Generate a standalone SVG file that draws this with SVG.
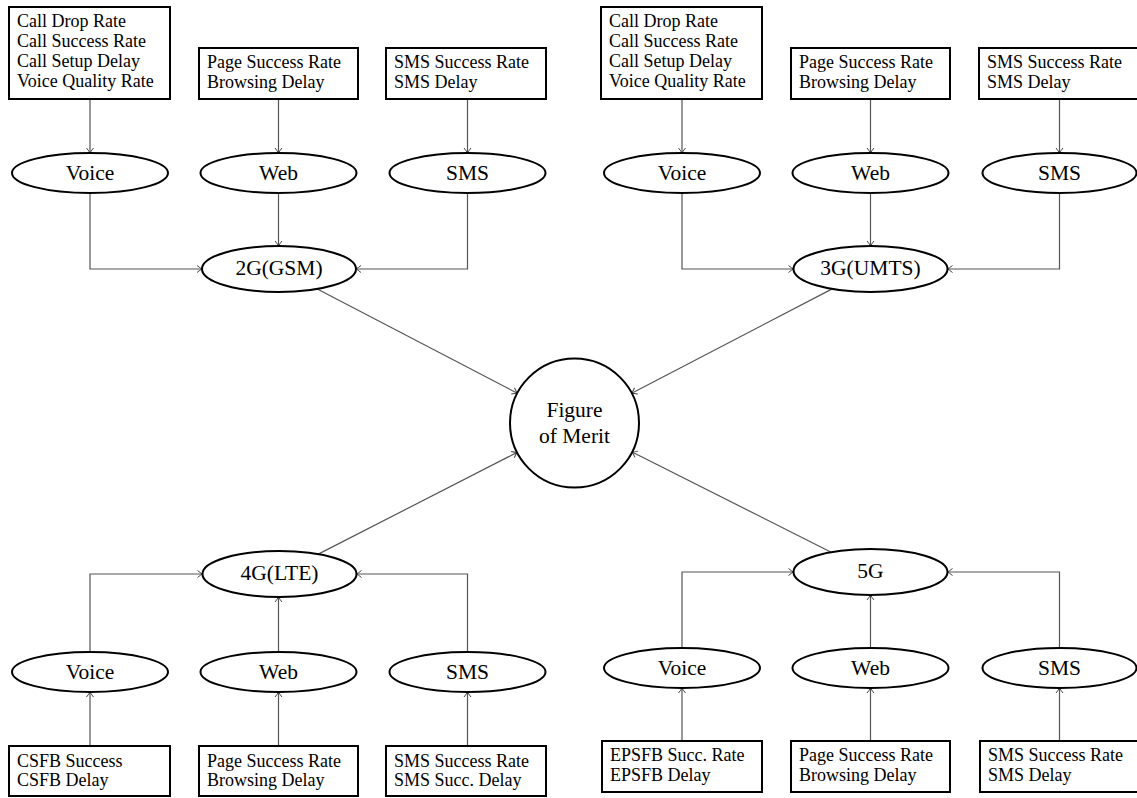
<svg xmlns="http://www.w3.org/2000/svg" width="1137" height="798" viewBox="0 0 1137 798">
<style>
.box{fill:#fff;stroke:#000;stroke-width:2}
.ell{fill:#fff;stroke:#000;stroke-width:2}
.t{font-family:"Liberation Serif","Times New Roman",serif;font-size:18px;fill:#000}
.lbl{font-family:"Liberation Serif","Times New Roman",serif;font-size:21.5px;fill:#000;text-anchor:middle}
.edge{fill:none;stroke:#555;stroke-width:1.2;marker-end:url(#ah)}
</style>
<defs>
<marker id="ah" viewBox="-6 -5 7 10" refX="0" refY="0" markerWidth="7" markerHeight="10" markerUnits="userSpaceOnUse" orient="auto">
<path d="M-5,-3.5 Q-1.8,-0.9 0,0 Q-1.8,0.9 -5,3.5" fill="none" stroke="#444" stroke-width="1"/>
</marker>
</defs>
<rect width="1137" height="798" fill="#fff"/>
<g id="connectors">
<path class="edge" d="M90,99 V153"/>
<path class="edge" d="M278.5,99 V153"/>
<path class="edge" d="M467.5,99 V153"/>
<path class="edge" d="M90,193 V269 H202"/>
<path class="edge" d="M278.5,193 V246"/>
<path class="edge" d="M467.5,193 V269 H356"/>
<path class="edge" d="M682,99 V153"/>
<path class="edge" d="M870.5,99 V153"/>
<path class="edge" d="M1059.5,99 V153"/>
<path class="edge" d="M682,193 V269 H793.5"/>
<path class="edge" d="M870.5,193 V246"/>
<path class="edge" d="M1059.5,193 V269 H947.5"/>
<path class="edge" d="M90,746 V692"/>
<path class="edge" d="M278.5,746 V692"/>
<path class="edge" d="M467.5,746 V692"/>
<path class="edge" d="M90,652 V574 H202.5"/>
<path class="edge" d="M278.5,652 V597"/>
<path class="edge" d="M467.5,652 V574 H356.5"/>
<path class="edge" d="M682,741 V688"/>
<path class="edge" d="M870.5,741 V688"/>
<path class="edge" d="M1059.5,741 V688"/>
<path class="edge" d="M682,648 V572 H793.5"/>
<path class="edge" d="M870.5,648 V595"/>
<path class="edge" d="M1059.5,648 V572 H947.5"/>
<path class="edge" d="M317.3,289 L517.3,393.2"/>
<path class="edge" d="M832.2,288.9 L631.7,393.2"/>
<path class="edge" d="M318.3,554.1 L517.1,452.4"/>
<path class="edge" d="M831.2,552.2 L632.1,452"/>
</g>
<g id="fom">
<circle class="ell" cx="574.5" cy="423" r="64.5"/>
<text class="lbl" x="574.5" y="417">Figure</text>
<text class="lbl" x="574.5" y="443">of Merit</text>
</g>
<!-- 2G cluster -->
<g id="g2_voice_kpi">
<rect class="box" x="9" y="7" width="161" height="92"/>
<text class="t" x="17" y="27">Call Drop Rate</text>
<text class="t" x="17" y="47">Call Success Rate</text>
<text class="t" x="17" y="67">Call Setup Delay</text>
<text class="t" x="17" y="86.5">Voice Quality Rate</text>
</g>
<g id="g2_web_kpi">
<rect class="box" x="199" y="48" width="159" height="51"/>
<text class="t" x="207" y="68">Page Success Rate</text>
<text class="t" x="207" y="88">Browsing Delay</text>
</g>
<g id="g2_sms_kpi">
<rect class="box" x="386" y="48" width="160" height="51"/>
<text class="t" x="394" y="68">SMS Success Rate</text>
<text class="t" x="394" y="88">SMS Delay</text>
</g>
<g id="g2_voice"><ellipse class="ell" cx="90" cy="173" rx="78" ry="20"/><text class="lbl" x="90" y="180">Voice</text></g>
<g id="g2_web"><ellipse class="ell" cx="278.5" cy="173" rx="78" ry="20"/><text class="lbl" x="278.5" y="180">Web</text></g>
<g id="g2_sms"><ellipse class="ell" cx="467.5" cy="173" rx="78" ry="20"/><text class="lbl" x="467.5" y="180">SMS</text></g>
<g id="g2"><ellipse class="ell" cx="279" cy="269" rx="77" ry="23"/><text class="lbl" x="279" y="275">2G(GSM)</text></g>
<!-- 3G cluster -->
<g id="g3_voice_kpi">
<rect class="box" x="601" y="7" width="161" height="92"/>
<text class="t" x="609" y="27">Call Drop Rate</text>
<text class="t" x="609" y="47">Call Success Rate</text>
<text class="t" x="609" y="67">Call Setup Delay</text>
<text class="t" x="609" y="86.5">Voice Quality Rate</text>
</g>
<g id="g3_web_kpi">
<rect class="box" x="791" y="48" width="159" height="51"/>
<text class="t" x="799" y="68">Page Success Rate</text>
<text class="t" x="799" y="88">Browsing Delay</text>
</g>
<g id="g3_sms_kpi">
<rect class="box" x="979" y="48" width="170" height="51"/>
<text class="t" x="987" y="68">SMS Success Rate</text>
<text class="t" x="987" y="88">SMS Delay</text>
</g>
<g id="g3_voice"><ellipse class="ell" cx="682" cy="173" rx="78" ry="20"/><text class="lbl" x="682" y="180">Voice</text></g>
<g id="g3_web"><ellipse class="ell" cx="870.5" cy="173" rx="78" ry="20"/><text class="lbl" x="870.5" y="180">Web</text></g>
<g id="g3_sms"><ellipse class="ell" cx="1059.5" cy="173" rx="77" ry="20"/><text class="lbl" x="1059.5" y="180">SMS</text></g>
<g id="g3"><ellipse class="ell" cx="870.5" cy="269" rx="77" ry="23"/><text class="lbl" x="870.5" y="275">3G(UMTS)</text></g>
<!-- 4G cluster -->
<g id="g4"><ellipse class="ell" cx="279.5" cy="574" rx="77" ry="23"/><text class="lbl" x="279.5" y="580">4G(LTE)</text></g>
<g id="g4_voice"><ellipse class="ell" cx="90" cy="672" rx="78" ry="20"/><text class="lbl" x="90" y="679">Voice</text></g>
<g id="g4_web"><ellipse class="ell" cx="278.5" cy="672" rx="78" ry="20"/><text class="lbl" x="278.5" y="679">Web</text></g>
<g id="g4_sms"><ellipse class="ell" cx="467.5" cy="672" rx="78" ry="20"/><text class="lbl" x="467.5" y="679">SMS</text></g>
<g id="g4_voice_kpi">
<rect class="box" x="9" y="746" width="161" height="50"/>
<text class="t" x="17" y="766.5">CSFB Success</text>
<text class="t" x="17" y="786">CSFB Delay</text>
</g>
<g id="g4_web_kpi">
<rect class="box" x="199" y="746" width="159" height="50"/>
<text class="t" x="207" y="766.5">Page Success Rate</text>
<text class="t" x="207" y="786">Browsing Delay</text>
</g>
<g id="g4_sms_kpi">
<rect class="box" x="386" y="746" width="160" height="50"/>
<text class="t" x="394" y="766.5">SMS Success Rate</text>
<text class="t" x="394" y="786">SMS Succ. Delay</text>
</g>
<!-- 5G cluster -->
<g id="g5"><ellipse class="ell" cx="870.5" cy="572" rx="77" ry="23"/><text class="lbl" x="870.5" y="578">5G</text></g>
<g id="g5_voice"><ellipse class="ell" cx="682" cy="668" rx="78" ry="20"/><text class="lbl" x="682" y="675">Voice</text></g>
<g id="g5_web"><ellipse class="ell" cx="870.5" cy="668" rx="78" ry="20"/><text class="lbl" x="870.5" y="675">Web</text></g>
<g id="g5_sms"><ellipse class="ell" cx="1059.5" cy="668" rx="77" ry="20"/><text class="lbl" x="1059.5" y="675">SMS</text></g>
<g id="g5_voice_kpi">
<rect class="box" x="602" y="741" width="160" height="51"/>
<text class="t" x="610" y="761">EPSFB Succ. Rate</text>
<text class="t" x="610" y="781">EPSFB Delay</text>
</g>
<g id="g5_web_kpi">
<rect class="box" x="791" y="741" width="159" height="51"/>
<text class="t" x="799" y="761">Page Success Rate</text>
<text class="t" x="799" y="781">Browsing Delay</text>
</g>
<g id="g5_sms_kpi">
<rect class="box" x="980" y="741" width="170" height="51"/>
<text class="t" x="988" y="761">SMS Success Rate</text>
<text class="t" x="988" y="781">SMS Delay</text>
</g>
</svg>
